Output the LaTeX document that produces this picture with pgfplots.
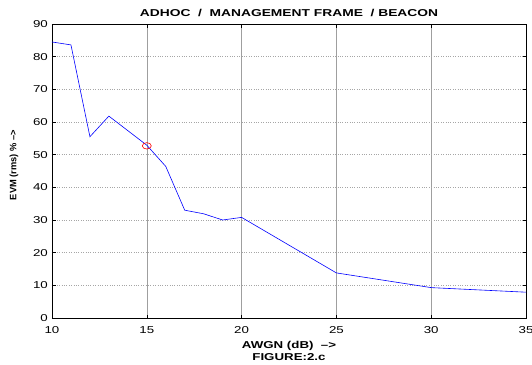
\documentclass[border=0pt]{standalone}
\usepackage{fontspec}
\setmainfont{Liberation Sans}
\usepackage{graphicx}
\usepackage{pgfplots}
\pgfplotsset{compat=1.18}

% wide lettering used throughout the figure
\newcommand{\wide}[1]{\scalebox{1.33}[1]{#1}}

\begin{document}
\begin{tikzpicture}[x=1pt,y=1pt]
\begin{axis}[
  scale only axis,
  width=474pt, height=294pt,
  xmin=10, xmax=35, ymin=0, ymax=90,
  xtick={10,15,...,35}, ytick={0,10,...,90},
  axis line style={black, line width=0.9pt},
  tick style={black, line width=0.5pt},
  tick align=inside,
  major tick length=3.5pt,
  xtick pos=both, ytick pos=both,
  grid=major,
  x grid style={gray!75, line width=0.5pt},
  y grid style={gray!70, dotted, line width=0.6pt},
  /pgf/number format/assume math mode=true,
  xticklabel={\wide{\pgfmathprintnumber{\tick}}},
  yticklabel={\wide{\pgfmathprintnumber{\tick}}},
  tick label style={font=\fontsize{10}{12}\selectfont, inner sep=0pt},
  xticklabel style={anchor=north, yshift=-8pt},
  yticklabel style={anchor=east, xshift=-4pt},
  title={\scalebox{1.38}[1]{\bfseries ADHOC\ \ /\ \ MANAGEMENT FRAME\ \ / BEACON}},
  title style={font=\fontsize{10}{12}\selectfont, at={(axis description cs:0.5,1)},
    anchor=base, inner sep=0pt, yshift=1.3pt},
  xlabel={\wide{\bfseries AWGN (dB)\ \ -->}\\\wide{\bfseries FIGURE:2.c}},
  xlabel style={font=\fontsize{10}{12}\selectfont, align=center,
    at={(axis description cs:0.5,0)}, anchor=north, inner sep=0pt, yshift=-23.5pt},
  ylabel={\bfseries EVM (rms) \% -->},
  ylabel style={font=\fontsize{9.3}{10}\selectfont, at={(axis description cs:-0.08,0.52)},
    anchor=center, inner sep=0pt},
]
\addplot[blue, line width=0.6pt] coordinates {
  (10,84.5) (11,83.6) (12,55.5) (13,61.8) (15,52.9) (16,46.4)
  (17,33.0) (18,31.9) (19,30.0) (20,30.8) (25,13.8) (30,9.3) (35,7.9)
};
\addplot[red, only marks, mark=o, mark size=3.2pt,
  mark options={xscale=1.4, line width=0.6pt}] coordinates {(15,52.7)};
\end{axis}
\pgfresetboundingbox
\path (-52pt,-46pt) rectangle (480pt,318pt);
\end{tikzpicture}
\end{document}
